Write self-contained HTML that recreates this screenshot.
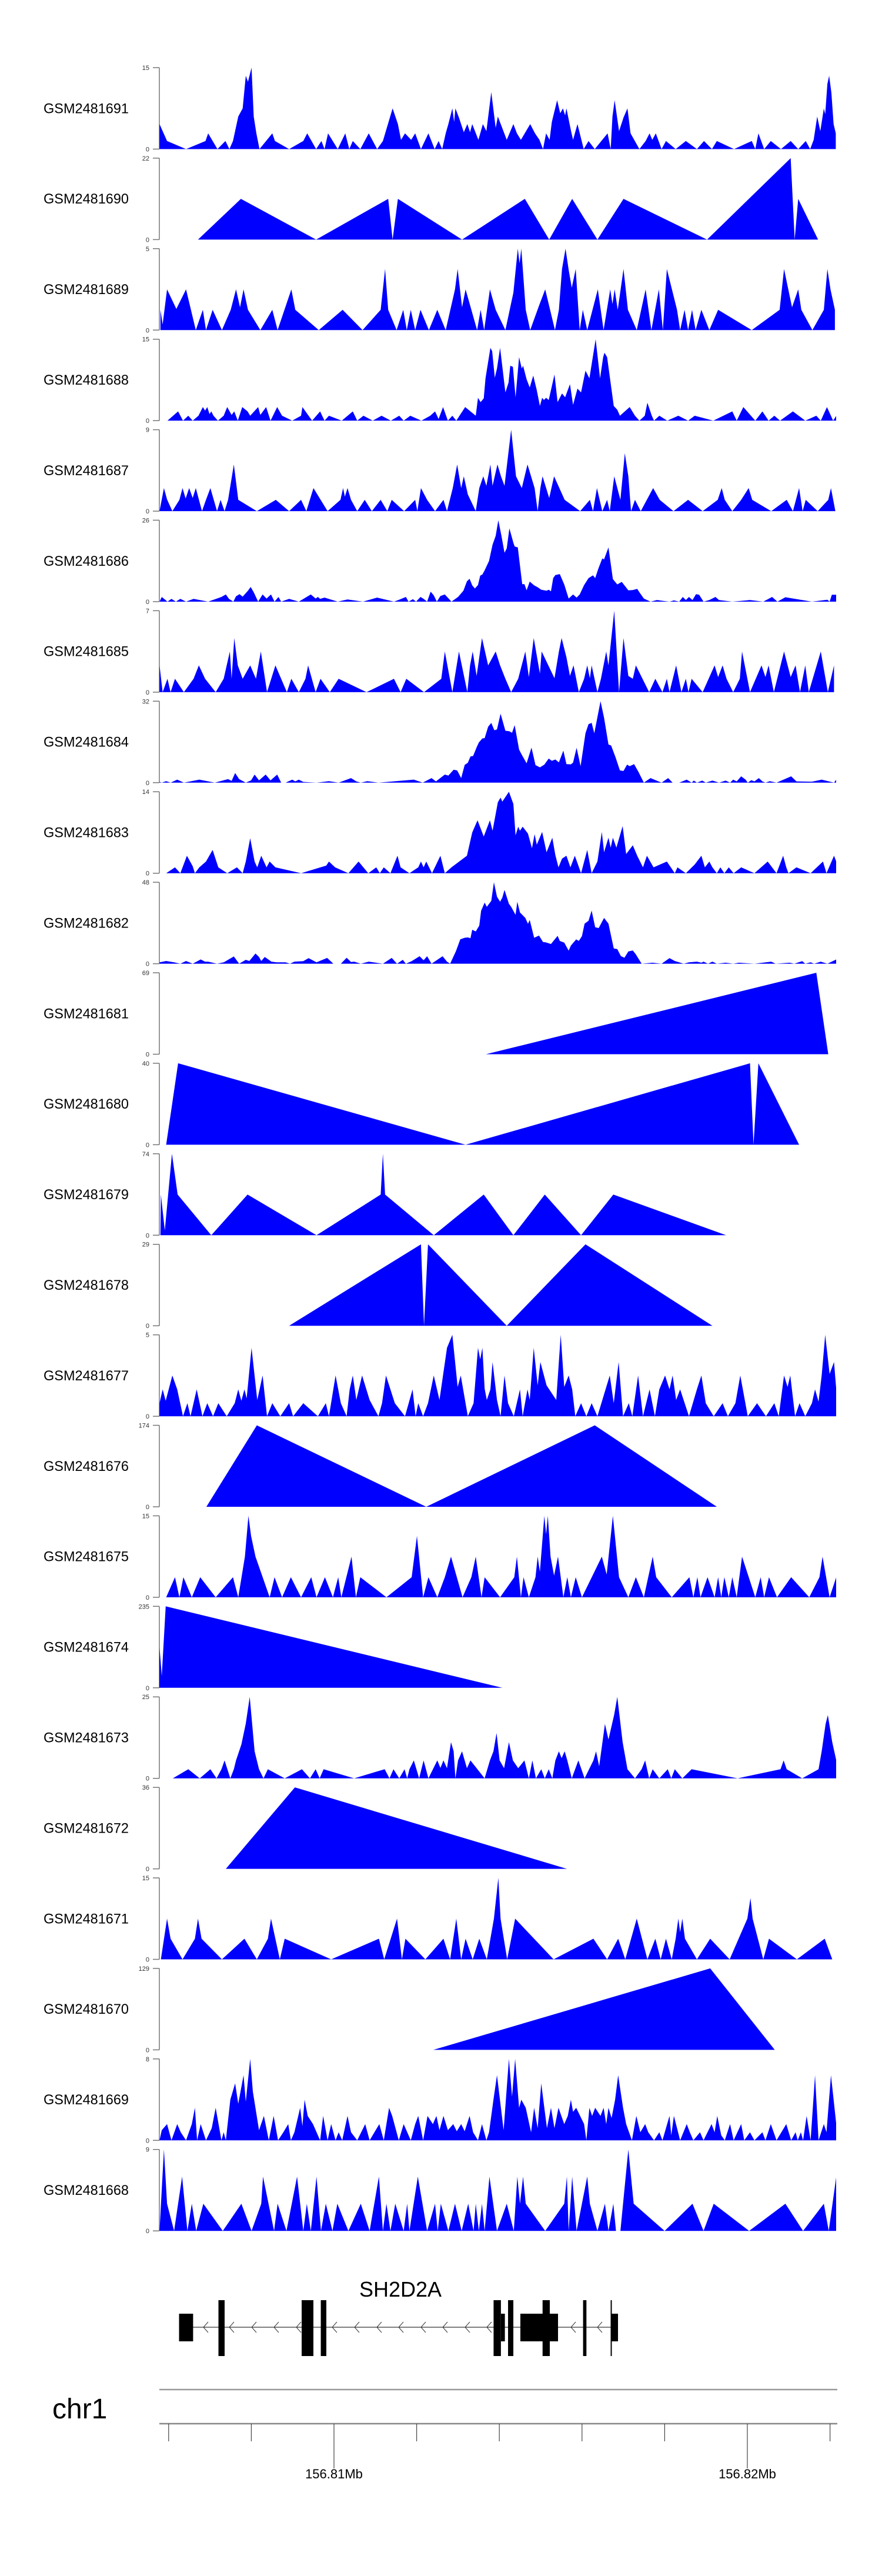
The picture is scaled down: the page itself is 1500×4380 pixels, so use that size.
<!DOCTYPE html>
<html><head><meta charset="utf-8"><title>Coverage tracks SH2D2A</title>
<style>
html,body{margin:0;padding:0;background:#fff;}
svg{display:block;font-family:"Liberation Sans",sans-serif;}
</style></head>
<body>
<svg id="chart" width="1500" height="4380" viewBox="0 0 1500 4380" xmlns="http://www.w3.org/2000/svg">
<defs><clipPath id="plotclip"><rect x="271" y="0" width="1151" height="4000"/></clipPath></defs>
<g id="tracks"></g>
<g id="gene"></g>
<g id="axis"></g>
</svg>
<script>
const NS="http://www.w3.org/2000/svg";
const sampleNames=["GSM2481691","GSM2481690","GSM2481689","GSM2481688","GSM2481687","GSM2481686","GSM2481685","GSM2481684","GSM2481683","GSM2481682","GSM2481681","GSM2481680","GSM2481679","GSM2481678","GSM2481677","GSM2481676","GSM2481675","GSM2481674","GSM2481673","GSM2481672","GSM2481671","GSM2481670","GSM2481669","GSM2481668"];
const yMaxes=[15,22,5,15,9,26,7,32,14,48,69,40,74,29,5,174,15,235,25,36,15,129,8,9];
// positions are bin indices; bin size binBp, starting at binStartBp
const binStartBp=156805619;
const binBp=10.7;
const t01=[[15,4.6],[32,1.5],[75,0],[119,1.5],[125,2.9],[146,0],[164,1.5],[173,0],[181,1.5],[193,6],[203,7.5],[210,13.5],[215,12.4],[223,15],[228,6],[234,2.9],[241,0],[270,2.9],[276,1.5],[308,0],[340,1.5],[349,2.9],[369,0],[381,1.5],[388,0],[396,2.9],[418,0],[435,2.9],[444,0],[452,1.5],[469,0],[488,2.9],[507,0],[520,1.5],[542,7.5],[554,4.6],[561,1.7],[570,2.9],[584,1.7],[593,2.9],[606,0],[623,2.9],[637,0],[646,1.5],[654,0],[662,2.9],[668,4.6],[677,7.5],[681,5],[684,7.5],[692,5.8],[703,3.1],[711,4.6],[717,3.1],[722,4.6],[736,1.7],[746,4.6],[754,3.3],[765,10.5],[775,3.9],[780,6],[800,1.7],[815,4.6],[823,2.9],[832,1.7],[853,4.6],[864,2.9],[874,1.7],[882,0],[889,2.9],[897,1.7],[902,5],[914,9],[921,6.6],[927,7.5],[932,6.2],[935,7.5],[946,3.1],[950,1.7],[960,4.6],[974,0],[985,1.5],[999,0],[1028,2.9],[1035,0],[1039,6],[1044,9],[1054,3.3],[1064,5.8],[1073,7.5],[1080,2.9],[1100,0],[1114,1.5],[1123,2.9],[1129,1.7],[1137,2.9],[1150,0],[1160,1.5],[1182,0],[1205,1.5],[1230,0],[1246,1.5],[1264,0],[1275,1.5],[1314,0],[1354,1.5],[1362,0],[1369,2.9],[1382,0],[1397,1.5],[1420,0],[1442,1.5],[1459,0],[1476,1.5],[1486,0],[1494,1.7],[1502,6],[1509,3.3],[1517,7.5],[1520,6.4],[1525,12],[1529,13.5],[1534,10.4],[1539,4.6],[1544,2.9]];
const t02=[[102,0],[199,11],[369,0],[532,11],[542,0],[554,11],[699,0],[841,11],[896,0],[948,11],[1005,0],[1064,11],[1253,0],[1442,22],[1451,0],[1459,11],[1504,0]];
const t03=[[17,1.25],[22,0.35],[32,2.5],[53,1.3],[75,2.5],[97,0],[113,1.25],[120,0],[135,1.25],[156,0],[176,1.25],[188,2.5],[197,1.4],[205,2.5],[215,1.25],[243,0],[270,1.25],[282,0],[313,2.5],[322,1.25],[375,0],[429,1.25],[474,0],[515,1.25],[525,3.75],[532,1.25],[551,0],[566,1.25],[574,0],[583,1.25],[593,0],[605,1.25],[624,0],[643,1.25],[662,0],[683,2.5],[689,3.75],[699,1.4],[707,2.5],[733,0],[741,1.25],[749,0],[762,2.5],[775,1.25],[797,0],[815,2.3],[825,5],[829,4.1],[833,5],[843,1.25],[853,0],[873,1.5],[887,2.5],[909,0],[918,1.25],[925,3.75],[933,5],[940,3.7],[947,2.6],[956,3.75],[965,0],[972,1.25],[982,0],[1006,2.5],[1019,0],[1034,2.5],[1039,1.6],[1044,2.5],[1051,1.25],[1064,3.75],[1074,1.25],[1094,0],[1114,2.5],[1127,0],[1144,2.5],[1153,0],[1162,3.75],[1185,1.25],[1192,0],[1202,1.25],[1210,0],[1219,1.25],[1227,0],[1240,1.25],[1258,0],[1278,1.25],[1354,0],[1417,1.25],[1427,3.75],[1445,1.4],[1459,2.5],[1466,1.25],[1491,0],[1517,1.25],[1525,3.75],[1532,2.5],[1542,1.25]];
const t04=[[33,0],[57,1.7],[68,0],[80,0.9],[90,0],[103,0.9],[113,2.5],[118,1.85],[123,2.5],[128,1.2],[132,1.7],[137,0.9],[147,0],[160,0.9],[168,2.5],[178,1.05],[184,1.7],[192,0],[202,2.5],[214,1.7],[220,0.9],[238,2.5],[243,1.05],[256,2.5],[266,0],[281,2.5],[292,0.9],[315,0],[335,0.9],[338,2.5],[360,0],[378,1.7],[388,0],[398,0.9],[427,0],[452,1.7],[462,0],[476,0.9],[497,0],[517,0.9],[538,0],[557,0.9],[567,0],[582,0.9],[607,0],[627,0.9],[638,1.7],[646,0.3],[656,2.5],[667,0],[677,0.9],[686,0],[706,2.5],[730,0.9],[735,4.2],[741,3.4],[748,4.1],[752,7.8],[763,13.4],[767,12.8],[773,7.9],[778,9.6],[785,13.4],[797,5.2],[804,7.0],[808,10.1],[814,9.9],[820,4.3],[828,11.7],[834,9.6],[837,10.1],[845,7.6],[852,6.1],[860,8.3],[868,5.6],[875,2.7],[880,4.2],[884,3.8],[889,4.2],[895,3.8],[908,8.5],[915,3.4],[925,5.0],[932,4.3],[943,6.7],[950,2.9],[960,5.9],[968,5.2],[978,9.2],[987,7.8],[1001,15],[1011,7.8],[1018,11.7],[1021,12.5],[1027,11.7],[1042,2.7],[1050,2.0],[1056,0.9],[1078,2.5],[1090,0.9],[1100,0],[1112,0.9],[1118,3.3],[1128,0.9],[1133,0],[1145,0.9],[1163,0],[1188,0.9],[1210,0],[1225,0.9],[1267,0],[1310,1.7],[1320,0],[1335,2.5],[1362,0],[1378,1.7],[1392,0],[1405,0.9],[1418,0],[1447,1.7],[1475,0],[1500,0.9],[1510,0],[1524,2.5],[1538,0],[1545,0.9]];
const t05=[[15,0],[25,2.55],[32,1.3],[44,0],[60,1.25],[67,2.55],[74,1.4],[82,2.55],[90,1.45],[97,2.55],[111,0],[120,1.25],[130,2.55],[145,0],[153,1.25],[162,0],[170,1.25],[183,5.15],[193,1.25],[235,0],[278,1.25],[308,0],[335,1.25],[347,0],[363,2.55],[395,0],[424,1.25],[430,2.55],[434,1.6],[440,2.55],[448,1.25],[462,0],[479,1.25],[495,0],[515,1.25],[530,0],[540,1.25],[568,0],[593,1.25],[598,0],[606,2.55],[620,1.25],[638,0],[657,1.25],[665,0],[678,2.55],[688,5.15],[697,2.55],[703,3.85],[712,1.85],[730,0],[738,2.55],[747,3.85],[754,2.8],[763,5.15],[768,2.8],[779,5.15],[787,3.85],[795,2.8],[810,9],[821,3.85],[834,2.55],[847,5.15],[863,2.55],[870,0],[876,2.55],[881,3.85],[896,1.45],[907,3.85],[931,1.25],[966,0],[988,1.25],[995,0],[1004,2.55],[1016,0],[1027,1.25],[1033,0],[1043,3.85],[1057,1.25],[1067,6.4],[1075,3.85],[1081,0],[1090,1.25],[1103,0],[1131,2.55],[1146,1.25],[1177,0],[1210,1.25],[1243,0],[1277,1.25],[1286,2.55],[1293,1.25],[1310,0],[1330,1.25],[1347,2.55],[1355,1.25],[1398,0],[1433,1.25],[1447,0],[1461,2.55],[1469,0],[1476,1.25],[1503,0],[1527,1.25],[1533,2.55],[1543,0]];
const t06=[[15,0],[20,1.5],[33,0],[42,0.9],[52,0],[62,0.9],[75,0],[92,0.9],[125,0],[155,1.5],[165,2.3],[172,0.9],[182,0],[188,1.7],[196,2.4],[203,1.6],[215,3.5],[221,4.7],[228,3],[238,0],[248,2.3],[257,1],[267,2.3],[275,0],[284,1.5],[290,0],[308,0.9],[330,0],[357,2.3],[368,1],[373,1.5],[378,0.9],[388,1.3],[418,0],[440,0.7],[475,0],[507,1.3],[545,0],[555,0.5],[572,1.5],[578,0],[588,0.8],[595,0],[605,1.5],[612,0.9],[620,0],[628,3.2],[635,2],[642,0],[650,1.8],[660,2.3],[675,0],[690,1.5],[702,3.5],[710,6.5],[716,7.3],[722,5.2],[728,4.2],[735,5.3],[740,8.3],[745,8.7],[750,10],[760,13],[768,18.2],[775,21],[781,26],[788,21],[795,15.6],[800,17],[806,23.4],[815,18.8],[818,17.6],[825,17.3],[835,5.6],[840,5.6],[845,3.6],[852,6.4],[862,5.2],[870,4.6],[878,3.8],[890,3.5],[895,3.8],[900,3.3],[905,7.5],[910,8.5],[920,8.8],[930,5.5],[940,1],[950,2.3],[958,1.3],[965,2.3],[975,5.3],[985,7.5],[995,8.4],[1000,7.5],[1007,10.5],[1016,13.8],[1020,13.5],[1030,17.3],[1040,7.2],[1050,5.5],[1060,6.3],[1075,3.6],[1085,3.7],[1095,4.1],[1100,3],[1110,1],[1125,0],[1140,0.5],[1150,0.3],[1168,0],[1178,0.4],[1190,0],[1198,1.5],[1205,0.5],[1212,1.5],[1220,0.5],[1228,2.4],[1235,2.2],[1245,0],[1258,0.5],[1272,1.5],[1280,0.5],[1310,0],[1350,0.5],[1380,0],[1400,1.5],[1412,0],[1430,1.4],[1490,0],[1525,0.6],[1530,0],[1535,2.2],[1545,2.2]];
const t07=[[15,2.3],[22,0],[33,1.15],[40,0],[50,1.15],[70,0],[92,1.15],[104,2.3],[118,1.15],[142,0],[160,1.15],[174,3.5],[178,1.15],[184,4.65],[192,2.3],[203,1.15],[220,2.3],[233,1.15],[244,3.5],[258,0],[277,2.3],[303,0],[313,1.15],[330,0],[345,1.15],[351,2.3],[368,0],[379,1.15],[400,0],[420,1.15],[483,0],[545,1.15],[560,0],[573,1.15],[613,0],[652,1.15],[660,3.5],[677,0],[692,3.5],[711,0],[717,2.3],[723,3.5],[732,1.4],[744,4.65],[758,2.3],[775,3.5],[785,2.3],[797,1.15],[810,0],[826,1.15],[842,3.5],[850,1.3],[861,4.65],[875,1.6],[879,3.5],[908,1.2],[918,3.5],[924,4.65],[935,3],[943,1.4],[951,2.3],[963,0],[975,1.15],[982,2.3],[988,1.2],[992,2.3],[1005,0],[1013,1.15],[1025,3.5],[1030,2.3],[1043,7],[1054,0],[1064,4.65],[1075,1.4],[1085,1.15],[1092,2.3],[1122,0],[1136,1.15],[1152,0],[1162,1.15],[1168,0],[1183,2.3],[1195,0],[1205,1.15],[1211,0],[1218,1.15],[1243,0],[1270,2.3],[1278,1.3],[1288,2.3],[1297,1.15],[1312,0],[1327,1.15],[1332,3.5],[1350,0],[1363,1.15],[1376,2.3],[1385,1.3],[1392,2.3],[1404,0],[1427,3.5],[1442,1.3],[1453,2.3],[1463,0],[1475,2.3],[1483,0],[1510,3.5],[1526,0],[1540,2.3]];
const t08=[[15,0.3],[20,0],[30,0.6],[40,0],[55,1.2],[70,0],[105,1.2],[140,0],[170,1.4],[178,0.7],[186,3.8],[195,1.4],[210,0],[222,0.9],[230,3.2],[240,0.9],[255,3.2],[266,0.9],[281,3.2],[290,0],[300,0],[315,1.2],[322,0.5],[330,1.2],[340,0.3],[370,0],[398,0.6],[420,0],[448,1.8],[460,0.5],[470,0],[485,0.6],[510,0],[590,1.2],[610,0],[630,1.8],[640,0.5],[660,3.2],[668,2.8],[680,5.1],[688,4.8],[697,1.8],[705,7],[712,7.8],[718,10.3],[724,10.5],[732,13.9],[737,15.8],[745,17.4],[750,17.5],[758,22],[765,23.5],[772,20.6],[778,20.9],[786,27.1],[797,20.4],[806,20.2],[812,19.6],[818,22.6],[828,13],[833,11.3],[845,7.6],[856,13.8],[865,6.9],[875,6],[885,7.1],[895,9.5],[902,8.6],[910,9.1],[918,8],[928,12.6],[935,7.3],[945,7.2],[950,7.9],[958,13.7],[967,6.5],[978,19.4],[985,23],[992,23.5],[998,19.4],[1012,32],[1020,25.5],[1030,15],[1036,14.6],[1046,10],[1056,4.8],[1064,4.6],[1072,7.1],[1078,6.5],[1088,7.3],[1098,4.2],[1110,0],[1125,1.8],[1150,0],[1165,1.8],[1175,0],[1190,0],[1207,1.2],[1218,0],[1223,0.8],[1230,0],[1242,0.8],[1250,0],[1265,0.8],[1280,0],[1295,0.8],[1305,0],[1312,1.2],[1320,0.5],[1330,2.5],[1340,1.2],[1345,0],[1353,1],[1360,0.5],[1370,1.8],[1378,0.5],[1385,0],[1395,0.6],[1410,0],[1443,2.5],[1455,0.5],[1490,0.4],[1512,1.2],[1540,0],[1545,1.2]];
const t09=[[30,0],[50,1],[62,0],[77,3],[90,1.2],[95,0],[105,1],[120,2],[135,4],[148,1],[168,0],[190,1],[203,0],[210,2],[220,6],[230,2],[236,1],[245,3],[257,1],[264,2],[277,1],[335,0],[392,1.3],[398,2],[412,1],[442,0],[465,2],[487,0],[505,1],[513,0],[522,1],[537,0],[553,3],[560,1],[580,0],[600,1],[606,2],[612,1],[618,2],[631,0],[650,3],[660,0],[675,1],[710,3],[722,7],[734,9.1],[748,6.3],[762,9.1],[768,7.3],[780,12.2],[786,13],[790,12.3],[805,14],[815,11.9],[820,6.5],[826,8],[830,7.3],[836,8],[848,6.8],[857,4.3],[863,6.7],[868,4.9],[880,7.1],[890,3.6],[903,6.1],[910,3.1],[917,1],[925,2.5],[935,3],[944,1],[954,3],[968,0],[982,4],[992,0],[1005,2],[1015,7.1],[1020,3.6],[1030,6.1],[1035,4.4],[1040,6.1],[1048,4.4],[1062,8.1],[1070,3.3],[1085,4.8],[1095,3],[1108,1],[1117,3],[1132,1],[1162,2],[1180,0],[1186,1],[1205,0],[1225,1.5],[1240,3],[1248,1],[1258,2],[1265,1],[1275,0],[1283,1],[1292,0],[1302,1],[1313,0],[1330,1],[1360,0],[1390,2],[1410,0],[1425,3],[1432,1],[1437,0],[1455,1],[1487,0],[1515,2],[1523,0],[1540,3],[1545,2]];
const t10=[[15,0.8],[30,1.6],[48,0.8],[62,0],[75,1.6],[90,0],[108,2.5],[118,1.2],[125,1.2],[145,0],[160,0.8],[183,4.3],[195,0],[210,2.3],[218,1.6],[232,6],[240,4],[245,1.6],[253,4],[268,1.2],[280,0.8],[300,0.8],[310,0],[320,1.2],[340,1.5],[352,3.3],[370,0.8],[394,3.4],[408,0],[425,0],[438,3.5],[448,1],[455,1.2],[470,0],[488,1.2],[520,0],[540,3.4],[552,0],[565,2.3],[572,0],[585,1.5],[603,4.4],[612,2],[620,4.4],[630,0],[655,4.4],[665,1.2],[672,0],[685,7.3],[695,14.4],[705,15.3],[712,15.5],[718,15],[722,20],[730,19],[738,22.5],[742,31.2],[750,36],[755,33.5],[765,37],[771,48],[778,39.5],[785,36.5],[790,39],[795,43.5],[805,35.3],[810,33.5],[820,28.8],[824,36.5],[830,30.2],[842,27],[848,23.5],[852,25.8],[862,15.3],[873,16.6],[882,12.8],[888,12.6],[900,11.6],[915,16.4],[920,13.4],[930,12.4],[940,7.7],[945,10.7],[957,14.3],[963,13.4],[970,16.3],[976,23.6],[985,25.3],[992,31.3],[1000,21.5],[1008,21],[1020,27],[1030,23.6],[1042,9],[1050,8.6],[1058,4.5],[1066,3.5],[1075,7.2],[1085,7.8],[1092,5.5],[1105,0],[1130,0.6],[1150,0],[1168,3.3],[1180,1.6],[1200,0],[1212,0.8],[1230,1.2],[1240,0.6],[1245,1.2],[1255,0],[1265,1.2],[1275,0],[1295,0.6],[1312,0],[1325,0.6],[1360,0],[1398,1.2],[1408,0],[1440,0.6],[1450,0],[1468,1.5],[1475,0],[1487,0.8],[1495,0],[1510,1.2],[1525,0],[1545,2.5]];
const t11=[[753,0],[1500,69],[1527,0]];
const t12=[[30,0],[57,40],[707,0],[1350,40],[1358,0],[1369,40],[1461,0]];
const t13=[[17,0],[18,37],[27,4.3],[43,74],[56,37],[132,0],[214,37],[370,0],[515,37],[520,74],[525,37],[635,0],[748,37],[815,0],[886,37],[968,0],[1041,37],[1296,0]];
const t14=[[308,0],[606,29],[613,0],[622,29],[800,0],[978,29],[1265,0]];
const t15=[[15,0.8],[22,1.65],[29,0.95],[44,2.5],[55,1.65],[68,0],[78,0.8],[85,0],[99,1.65],[112,0],[123,0.8],[136,0],[148,0.8],[167,0],[185,0.8],[193,1.65],[200,0.95],[207,1.65],[212,1.1],[223,4.2],[236,1],[248,2.5],[258,0],[270,0.8],[288,0],[308,0.8],[317,0],[340,0.8],[373,0],[391,0.8],[398,0],[413,2.5],[425,0.8],[438,0],[445,1.65],[452,2.5],[460,1],[473,2.5],[490,1],[510,0],[518,0.8],[527,2.5],[547,0.8],[570,0],[587,1.65],[594,0],[600,0.8],[611,0],[622,0.8],[635,2.5],[648,1],[665,4.2],[677,5],[689,1.8],[696,2.5],[712,0],[725,0.8],[735,4.2],[740,3.5],[745,4.2],[750,1.7],[755,1],[763,1.65],[768,3.33],[778,1],[786,0],[795,2.5],[803,0.8],[816,0],[830,1.65],[836,0],[847,1.65],[852,1],[861,4.2],[870,1.9],[876,3.33],[890,1.9],[912,1],[922,5],[930,1.8],[940,2.5],[948,1.65],[955,0],[968,0.8],[980,0],[992,0.8],[1005,0],[1033,2.5],[1042,0.8],[1053,3.33],[1063,0],[1076,0.8],[1084,0],[1097,2.5],[1108,0],[1123,1.65],[1135,0],[1145,1.65],[1158,2.5],[1168,1.65],[1175,2.5],[1183,1],[1192,1.65],[1212,0],[1230,1.65],[1240,2.5],[1250,0.8],[1268,0],[1288,0.8],[1300,0],[1317,0.8],[1328,2.5],[1345,0],[1366,0.8],[1386,0],[1405,0.8],[1415,0],[1427,2.5],[1435,1.8],[1441,2.5],[1452,0],[1462,0.8],[1475,0],[1490,0.8],[1497,1.65],[1505,0.9],[1512,2.5],[1520,5],[1530,2.6],[1540,3.33],[1545,1.65]];
const t16=[[121,0],[235,174],[618,0],[999,174],[1275,0]];
const t17=[[30,0],[50,3.7],[60,0],[69,3.7],[88,0],[107,3.7],[142,0],[181,3.7],[193,0],[208,7.5],[216,15],[222,11.3],[232,7.5],[264,0],[275,3.7],[292,0],[312,3.7],[335,0],[358,3.7],[370,0],[389,3.7],[407,0],[419,3.7],[426,0],[449,7.5],[459,0],[469,3.7],[528,0],[585,3.7],[597,11.3],[611,0],[623,3.7],[643,0],[660,3.7],[674,7.5],[700,0],[720,3.7],[730,7.5],[743,0],[750,3.7],[785,0],[817,3.7],[823,7.5],[832,0],[838,3.7],[850,0],[865,3.7],[870,7.5],[875,4.7],[885,15],[889,11.6],[893,15],[899,7.5],[907,4],[916,7.5],[928,0],[937,3.7],[945,0],[956,3.7],[970,0],[1015,7.5],[1026,4.2],[1040,15],[1054,3.7],[1075,0],[1092,3.7],[1110,0],[1130,7.5],[1138,3.7],[1173,0],[1213,3.7],[1222,0],[1231,3.7],[1238,0],[1254,3.7],[1270,0],[1278,3.7],[1285,0],[1292,3.7],[1302,0],[1310,3.7],[1320,0],[1332,7.5],[1362,0],[1374,3.7],[1382,0],[1393,3.7],[1411,0],[1443,3.7],[1484,0],[1507,3.7],[1514,7.5],[1530,0],[1545,3.7]];
const t18=[[14,0],[15,116],[20,34],[29,235],[790,0]];
const t19=[[45,0],[80,2.8],[106,0],[130,2.8],[144,0],[155,2.8],[162,5.5],[175,0],[183,2.8],[188,5.5],[200,10.4],[210,16.8],[219,25],[230,8.3],[240,2.8],[250,0],[260,2.8],[298,0],[337,2.8],[355,0],[368,2.8],[377,0],[386,2.8],[455,0],[524,2.8],[535,0],[544,2.8],[557,0],[569,2.8],[575,0],[580,2.8],[590,5.5],[602,0],[612,5.5],[623,0],[643,5.5],[650,3.2],[657,5.5],[665,3.1],[674,11.1],[680,8.3],[684,0],[690,5.5],[699,8.3],[710,3.1],[718,5.5],[750,0],[762,5.5],[770,8.3],[777,13.9],[784,5.5],[794,3.1],[805,11.1],[814,5.5],[826,3.1],[840,5.5],[850,0],[858,5.5],[866,0],[878,2.8],[886,0],[895,2.8],[903,0],[910,5.5],[918,8.3],[924,6.2],[931,8.3],[937,5.5],[947,0],[962,5.5],[976,0],[996,5.5],[1002,8.3],[1009,3.7],[1022,16.7],[1030,11.9],[1043,19.6],[1050,25],[1062,11.1],[1073,2.8],[1090,0],[1105,2.8],[1113,5.5],[1122,0],[1130,2.8],[1145,0],[1164,2.8],[1172,0],[1180,2.8],[1197,0],[1218,2.8],[1322,0],[1419,2.8],[1426,5.5],[1433,2.8],[1468,0],[1505,2.8],[1512,8.3],[1521,16.7],[1526,19.4],[1536,11.1],[1545,5.5]];
const t20=[[165,0],[321,36],[936,0]];
const t21=[[18,0],[32,7.5],[40,3.8],[67,0],[95,3.8],[102,7.5],[110,3.8],[156,0],[207,3.8],[235,0],[260,3.8],[267,7.5],[287,0],[298,3.8],[403,0],[511,3.8],[523,0],[552,7.5],[563,0],[571,3.8],[616,0],[657,3.8],[672,0],[686,7.5],[697,0],[707,3.8],[723,0],[738,3.8],[755,0],[771,7.5],[781,15],[786,7.5],[801,0],[819,7.5],[906,0],[996,3.8],[1027,0],[1052,3.8],[1068,0],[1094,7.5],[1118,0],[1136,3.8],[1148,0],[1160,3.8],[1173,0],[1182,3.8],[1188,7.5],[1192,5],[1197,7.5],[1203,3.8],[1230,0],[1260,3.8],[1304,0],[1344,7.5],[1351,11.3],[1356,7.5],[1380,0],[1393,3.8],[1456,0],[1519,3.8],[1536,0]];
const t22=[[634,0],[1260,129],[1406,0]];
const t23=[[15,0],[20,1],[32,1.6],[42,0],[55,1.6],[63,0.8],[75,0],[88,1.6],[95,3.2],[100,0],[108,1.6],[120,0],[133,1.2],[142,3.2],[155,0],[160,0.8],[165,0],[175,4],[186,5.6],[193,3.6],[205,6.4],[210,3.8],[220,8],[226,4.8],[240,1],[251,2.4],[262,0],[273,2.4],[283,0],[295,0.8],[306,1.6],[312,0],[320,0.8],[333,3.2],[338,1.4],[343,4],[350,2.4],[362,1.6],[378,0],[385,2.4],[395,0],[403,1.6],[413,0],[420,0.8],[428,0],[440,2.4],[448,0.8],[462,0],[480,1.6],[490,0],[512,1.6],[522,0],[534,3.2],[541,2.4],[556,0],[567,1.6],[583,0],[593,1.6],[600,2.4],[611,0],[621,2.4],[633,1.6],[641,2.4],[648,1],[657,2.4],[667,1],[679,1.6],[687,0.9],[697,1.6],[705,0.9],[716,2.4],[724,0.8],[735,0],[744,1.6],[754,0],[760,0.8],[770,4],[778,6.4],[793,1],[805,8],[812,4.3],[819,8],[828,3.2],[833,4],[843,3.2],[855,0.8],[862,3.2],[870,1.2],[878,5.6],[885,3.2],[891,1.2],[900,3.2],[908,1.2],[917,3.2],[930,1.6],[938,2.4],[945,4],[950,2.8],[957,3.2],[975,1.6],[980,0],[987,3.2],[993,2.4],[1000,3.2],[1012,2.4],[1019,3.2],[1025,1.6],[1030,3.2],[1037,2.2],[1045,4],[1052,6.4],[1063,3.2],[1070,1.6],[1083,0],[1093,2.4],[1102,0.8],[1113,1.6],[1120,0.8],[1133,0],[1145,0.8],[1152,0],[1168,2.4],[1172,0.5],[1178,2.4],[1192,0],[1207,1.6],[1214,0.8],[1222,0],[1237,0.8],[1245,0],[1263,1.6],[1270,0.8],[1276,2.4],[1285,0.5],[1293,0],[1305,1.6],[1313,0],[1330,1.6],[1337,0],[1350,0.8],[1360,0],[1378,0.8],[1385,0],[1397,1.6],[1410,0],[1432,1.6],[1443,0],[1453,0.8],[1458,0],[1465,0.8],[1470,0],[1478,2.4],[1487,0],[1497,6.4],[1505,0],[1517,1.6],[1523,0.8],[1533,6.4],[1545,1.6]];
const t24=[[15,0],[25,9],[32,3],[48,0],[66,6],[78,0],[88,3],[98,0],[114,3],[158,0],[200,3],[223,0],[245,3],[249,6],[274,0],[282,3],[302,0],[326,6],[340,0],[348,3],[357,0],[370,6],[380,0],[391,3],[406,0],[417,3],[442,0],[470,3],[490,0],[511,6],[520,0],[528,3],[537,0],[548,3],[567,0],[575,3],[580,0],[599,6],[620,0],[638,3],[644,0],[651,3],[668,0],[683,3],[698,0],[713,3],[725,0],[730,3],[737,0],[744,3],[750,0],[761,6],[778,0],[800,3],[816,0],[824,6],[830,3],[837,6],[843,3],[887,0],[930,3],[936,6],[940,0],[948,6],[958,0],[982,6],[988,3],[1005,0],[1022,3],[1030,0],[1041,3],[1047,0],[1057,0],[1075,9],[1087,3],[1157,0],[1220,3],[1245,0],[1268,3],[1348,0],[1430,3],[1470,0],[1517,3],[1528,0],[1545,6]];
const trackData=[t01,t02,t03,t04,t05,t06,t07,t08,t09,t10,t11,t12,t13,t14,t15,t16,t17,t18,t19,t20,t21,t22,t23,t24];
// gene model (genomic kb offset from 156.800 Mb)
const exonStartKb=[6.252,7.205,9.218,9.681,13.861,14.040,14.211,14.509,15.046,16.026,16.693,16.720];
const exonEndKb=[6.592,7.354,9.502,9.815,14.038,14.134,14.339,15.420,15.221,16.107,16.720,16.871];
const exonTall=[0,1,1,1,1,0,1,0,1,1,1,0];
const chevronKb=[6.842,7.468,8.009,8.549,9.090,9.957,10.498,11.038,11.565,12.105,12.632,13.172,13.698,15.733,16.373];
const axisTickKb=[6,8,10,12,14,16,18,20,22];
const axisLabelKb=[10,20];
const axisLabels=["156.81Mb","156.82Mb"];

// scales
const PX0=568, PXPERKB=70.3, PLOT_L=271, PLOT_R=1422;
function xKb(kb){return PX0+(kb-10)*PXPERKB;}
function xBin(b){return xKb((binStartBp+b*binBp-156800000)/1000);}
const TRACK_TOP0=115, TRACK_PITCH=153.9, TRACK_H=138.5;
function trackTop(i){return TRACK_TOP0+i*TRACK_PITCH;}

function mk(tag,attrs,parent){const e=document.createElementNS(NS,tag);for(const k in attrs)e.setAttribute(k,attrs[k]);parent.appendChild(e);return e;}

const tracksG=document.getElementById('tracks');
sampleNames.forEach((nm,i)=>{
  const top=trackTop(i), base=top+TRACK_H, ymax=yMaxes[i];
  const yS=v=>base-(v/ymax)*TRACK_H;
  const g=mk('g',{},tracksG);
  
  
  const lab=mk('text',{x:219,y:top+TRACK_H/2+8,'text-anchor':'end','font-size':24,fill:'#000',textLength:145,lengthAdjust:'spacingAndGlyphs'},g);
  lab.textContent=nm;
  
  
  const ax=mk('path',{d:`M${PLOT_L},${top} V${base} M260,${top} H${PLOT_L} M260,${base} H${PLOT_L}`,stroke:'#777','stroke-width':1.5,fill:'none'},g);
  
  
  const tTop=mk('text',{x:254,y:top+4,'text-anchor':'end','font-size':11,fill:'#333'},g);
  tTop.textContent=String(ymax);
  
  
  const tBot=mk('text',{x:254,y:base+4,'text-anchor':'end','font-size':11,fill:'#333'},g);
  tBot.textContent='0';
  
  
  const d=trackData[i];
  let p=`M${xBin(d[0][0]).toFixed(1)},${base}`;
  d.forEach(pt=>{p+=` L${xBin(pt[0]).toFixed(1)},${yS(pt[1]).toFixed(1)}`;});
  p+=` L${xBin(d[d.length-1][0]).toFixed(1)},${base} Z`;
  const area=mk('path',{d:p,fill:'#0000ff',stroke:'none','clip-path':'url(#plotclip)'},g);
  
  
});

// gene model
const geneG=document.getElementById('gene');
const GY=3957, TALL=[3911,4006], SHORT=[3934,3981];
const gl=mk('text',{x:681,y:3905,'text-anchor':'middle','font-size':36,fill:'#000'},geneG);
gl.textContent='SH2D2A';


const intron=mk('line',{x1:xKb(Math.min(...exonStartKb)),x2:xKb(Math.max(...exonEndKb)),y1:GY,y2:GY,stroke:'#000','stroke-width':1},geneG);


chevronKb.forEach(k=>{
  const x=xKb(k);
  const c=mk('path',{d:`M${x+8},${GY-9} L${x},${GY} L${x+8},${GY+9}`,stroke:'#333','stroke-width':1,fill:'none'},geneG);
  
  
});
exonStartKb.forEach((s,i)=>{
  const e=exonEndKb[i];
  const x1=xKb(Math.min(s,e)), x2=xKb(Math.max(s,e));
  const yy=exonTall[i]?TALL:SHORT;
  const r=mk('rect',{x:x1,y:yy[0],width:Math.max(2,x2-x1),height:yy[1]-yy[0],fill:'#000'},geneG);
  
  
});

// genome axis
const axG=document.getElementById('axis');
const chr=mk('text',{x:89,y:4112,'font-size':48,fill:'#000'},axG);
chr.textContent='chr1';


const l1=mk('line',{x1:PLOT_L,x2:PLOT_R+2,y1:4063,y2:4063,stroke:'#999','stroke-width':2.5},axG);


const l2=mk('line',{x1:PLOT_L,x2:PLOT_R+2,y1:4121,y2:4121,stroke:'#888','stroke-width':2.5},axG);


axisTickKb.forEach(k=>{
  const major=axisLabelKb.includes(k);
  const t=mk('line',{x1:xKb(k),x2:xKb(k),y1:4121,y2:major?4197:4151,stroke:'#444','stroke-width':1.2},axG);
  
  
});
axisLabelKb.forEach((k,i)=>{
  const t=mk('text',{x:xKb(k),y:4214,'text-anchor':'middle','font-size':22,fill:'#000'},axG);
  t.textContent=axisLabels[i];
  
  
});
</script>
</body></html>
